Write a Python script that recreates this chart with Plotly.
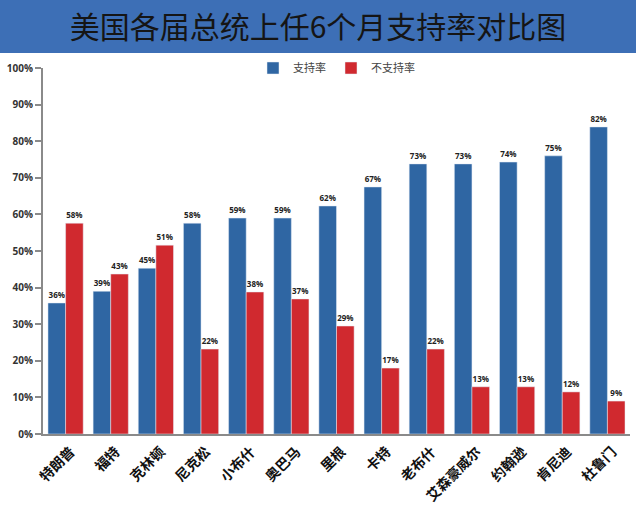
import plotly.graph_objects as go

presidents = ["特朗普", "福特", "克林顿", "尼克松", "小布什", "奥巴马", "里根",
              "卡特", "老布什", "艾森豪威尔", "约翰逊", "肯尼迪", "杜鲁门"]
support = [35.8, 39.0, 45.3, 57.6, 59.0, 59.0, 62.3, 67.5, 73.8, 73.8, 74.3, 76.0, 83.9]
oppose = [57.6, 43.7, 51.6, 23.2, 38.8, 36.9, 29.5, 18.0, 23.2, 12.9, 12.9, 11.5, 9.0]
support_labels = ["36%", "39%", "45%", "58%", "59%", "59%", "62%", "67%", "73%", "73%", "74%", "75%", "82%"]
oppose_labels = ["58%", "43%", "51%", "22%", "38%", "37%", "29%", "17%", "22%", "13%", "13%", "12%", "9%"]
y_ticks = [0, 10, 20, 30, 40, 50, 60, 70, 80, 90, 100]
y_tick_text = [f"{v}%" for v in y_ticks]

BLUE = "#2f66a3"
RED = "#d0292f"
CJK = "Noto Sans CJK SC"

fig = go.Figure()
fig.add_trace(go.Bar(
    x=presidents, y=support, name="支持率", marker_color=BLUE,
    text=support_labels, textposition="outside", cliponaxis=False,
    textfont=dict(size=8, color="#222", family="Open Sans", weight="bold"),
))
fig.add_trace(go.Bar(
    x=presidents, y=oppose, name="不支持率", marker_color=RED,
    text=oppose_labels, textposition="outside", cliponaxis=False,
    textfont=dict(size=8, color="#222", family="Open Sans", weight="bold"),
))

fig.add_shape(type="rect", xref="paper", yref="paper",
              x0=-1, x1=2, y0=(506 - 53 - 72) / (506 - 68 - 72), y1=2,
              fillcolor="#3d6fb6", line_width=0, layer="below")

fig.update_layout(
    width=636, height=506,
    margin=dict(l=43, r=6, t=68, b=72, autoexpand=False),
    paper_bgcolor="white", plot_bgcolor="white",
    barmode="group", bargap=0.22, bargroupgap=0,
    title=dict(text="美国各届总统上任6个月支持率对比图", x=0.5, xanchor="center",
               y=1 - 27 / 506, yanchor="middle",
               font=dict(family=CJK, size=30, color="#151515")),
    legend=dict(orientation="h", x=0.5, xanchor="center", y=1.0, yanchor="middle",
                font=dict(family=CJK, size=11, color="#444"),
                itemwidth=30, bgcolor="rgba(0,0,0,0)"),
    xaxis=dict(showgrid=False, showline=True, linecolor="#8a8a8a", linewidth=2,
               ticks="", tickangle=-45, ticklabelstandoff=2, ticklabelshift=5,
               automargin=False,
               tickfont=dict(family=CJK, size=14, color="#111", weight="bold")),
    yaxis=dict(range=[0, 100], tickmode="array", tickvals=y_ticks, ticktext=y_tick_text,
               showgrid=False, zeroline=False, showline=True, automargin=False,
               linecolor="#8a8a8a", linewidth=2,
               ticks="outside", ticklen=6, tickcolor="#8a8a8a", tickwidth=1.5,
               tickfont=dict(family="Open Sans", size=10, color="#333", weight="bold")),
    showlegend=True,
)

fig.write_html("out.html")
